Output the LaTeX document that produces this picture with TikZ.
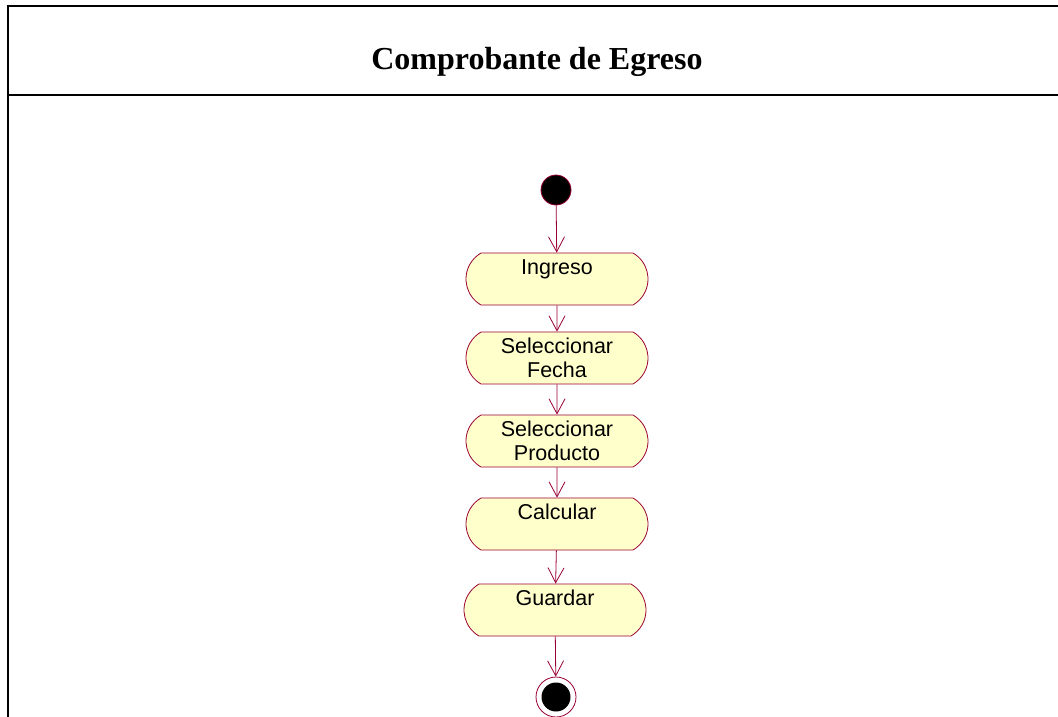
\documentclass[tikz,border=0pt]{standalone}
\usepackage{fontspec}
\setmainfont{Liberation Serif}
\newfontfamily\arialfont{Liberation Sans}
\usetikzlibrary{arrows.meta,shapes.misc}
\definecolor{umlred}{HTML}{990033}
\definecolor{umlfill}{HTML}{FFFFCC}
\begin{document}
\begin{tikzpicture}[x=1pt,y=-1pt,
  action/.style={rounded rectangle, rounded rectangle arc length=120, draw=umlred, fill=umlfill,
    line width=0.8pt, minimum width=182pt, minimum height=52pt, inner sep=0pt, align=center,
    font=\arialfont\fontsize{21.5}{24}\selectfont},
  flow/.style={draw=umlred, line width=0.8pt, -{Straight Barb[length=15pt,width=16pt,line width=0.8pt]}},
  framel/.style={line width=2pt, line cap=rect}]
\useasboundingbox (0,0) rectangle (1058,716);
\draw[framel] (1060,6) -- (7.5,6) -- (7.5,720);
\draw[framel] (7.5,95) -- (1060,95);
\node[font=\bfseries\fontsize{32}{38}\selectfont, anchor=base] (title) at (537,69) {Comprobante de Egreso};
\node[circle, fill=black, draw=umlred, line width=0.8pt, minimum size=30pt, inner sep=0pt] (start) at (556,190) {};
\node[action] (ing) at (557,279) {Ingreso\\\mbox{}};
\node[action] (fecha) at (557,358) {Seleccionar\\Fecha};
\node[action] (prod) at (557,441) {Seleccionar\\Producto};
\node[action] (calc) at (557,524) {Calcular\\\mbox{}};
\node[action] (guar) at (555,610) {Guardar\\\mbox{}};
\node[circle, fill=white, draw=umlred, line width=0.8pt, minimum size=40pt, inner sep=0pt] (endo) at (556,697) {};
\node[circle, fill=black, minimum size=29pt, inner sep=0pt] (endi) at (endo.center) {};
\draw[flow] (start) -- (ing);
\draw[flow] (ing) -- (fecha);
\draw[flow] (fecha) -- (prod);
\draw[flow] (prod) -- (calc);
\draw[flow] (calc) -- (guar);
\draw[flow] (guar) -- (endo);
\end{tikzpicture}
\end{document}
